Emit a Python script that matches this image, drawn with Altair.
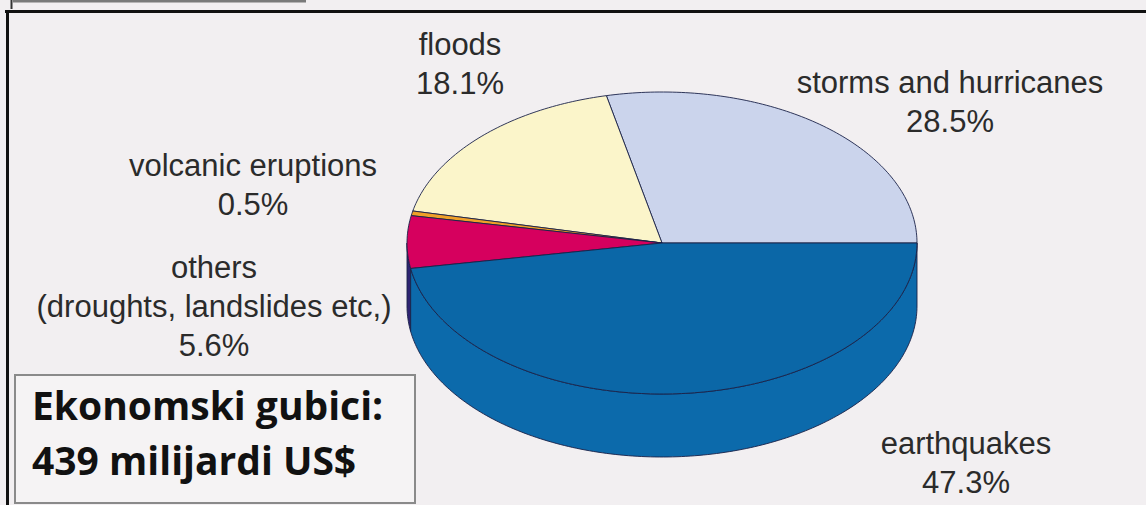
import altair as alt
import numpy as np
import pandas as pd

# ---- data ----
categories = ["storms and hurricanes", "floods", "volcanic eruptions", "others", "earthquakes"]
shares = [28.5, 18.1, 0.5, 5.6, 47.3]
pct_labels = ["28.5%", "18.1%", "0.5%", "5.6%", "47.3%"]
name_lines = [["storms and hurricanes"], ["floods"], ["volcanic eruptions"],
              ["others", "(droughts, landslides etc,)"], ["earthquakes"]]
title_lines = ["Ekonomski gubici:", "439 milijardi US$"]

# ---- styles / layout (not data) ----
top_colors = ["#cbd4ec", "#fbf5ca", "#f0a028", "#d6005e", "#0b67a7"]
side_colors = ["#a9b4d6", "#e0d9a8", "#c98010", "#2e2372", "#0c6aab"]
W, H = 1146, 505
CX, CY, RX, RY, DEPTH = 662, 243, 255, 151, 63
# label anchors: (center x, baseline of first line)
label_anchor = [(950, 93), (460, 55), (253, 176), (214, 278), (966, 454)]
LINE_H = 39

# ---- geometry derived from the shares ----
cum = np.concatenate([[0.0], np.cumsum(shares)]) / sum(shares) * 360.0


def arc(a1, a2, dy=0.0):
    n = max(2, int(np.ceil(abs(a2 - a1))) + 1)
    t = np.radians(np.linspace(a1, a2, n))
    return list(CX + RX * np.cos(t)), list(CY - RY * np.sin(t) + dy)


top_rows, side_rows = [], []
for k, cat in enumerate(categories):
    a1, a2 = cum[k], cum[k + 1]
    xs, ys = arc(a1, a2)
    px = [CX] + xs + [CX]
    py = [CY] + ys + [CY]
    for i, (x, y) in enumerate(zip(px, py)):
        top_rows.append({"slice": cat, "i": i, "x": x, "y": y})
    lo, hi = max(a1, 180.0), min(a2, 360.0)
    if hi > lo:
        tx, ty = arc(lo, hi)
        bx, by = arc(hi, lo, DEPTH)
        px = tx + bx + [tx[0]]
        py = ty + by + [ty[0]]
        for i, (x, y) in enumerate(zip(px, py)):
            side_rows.append({"side": cat, "i": i, "x": x, "y": y})

top_df = pd.DataFrame(top_rows)
side_df = pd.DataFrame(side_rows)

lab_rows = []
for k in range(len(categories)):
    lx, ly = label_anchor[k]
    lines = name_lines[k] + [pct_labels[k]]
    for j, t in enumerate(lines):
        lab_rows.append({"t": t, "x": lx, "y": ly + j * LINE_H})
lab_df = pd.DataFrame(lab_rows)

title_df = pd.DataFrame({"t": title_lines, "x": [32, 32], "y": [420, 475]})

xs = alt.Scale(domain=[0, W], nice=False, zero=False)
ys = alt.Scale(domain=[H, 0], nice=False, zero=False)
X = lambda: alt.X("x:Q", scale=xs, axis=None)
Y = lambda: alt.Y("y:Q", scale=ys, axis=None)

# frame decorations
frame_top = alt.Chart(pd.DataFrame({"a": [0]})).mark_rule(color="#111111", strokeWidth=3).encode(
    x=alt.value(5), x2=alt.value(W), y=alt.value(11.5))
frame_left = alt.Chart(pd.DataFrame({"a": [0]})).mark_rule(color="#111111", strokeWidth=3).encode(
    x=alt.value(7.5), y=alt.value(10), y2=alt.value(H))
small_left = alt.Chart(pd.DataFrame({"a": [0]})).mark_rule(color="#333333", strokeWidth=2).encode(
    x=alt.value(11.5), y=alt.value(0), y2=alt.value(9))
small_bar = alt.Chart(pd.DataFrame({"a": [0]})).mark_rule(color="#7a7a7a", strokeWidth=3).encode(
    x=alt.value(13), x2=alt.value(306), y=alt.value(1))

sides = alt.Chart(side_df).mark_line(filled=True, stroke="#1a2148", strokeWidth=0.9).encode(
    x=X(), y=Y(), order=alt.Order("i:Q"),
    color=alt.Color("side:N", scale=alt.Scale(domain=categories, range=side_colors), legend=None),
)
tops = alt.Chart(top_df).mark_line(filled=True, stroke="#1a2148", strokeWidth=0.9).encode(
    x=X(), y=Y(), order=alt.Order("i:Q"),
    color=alt.Color("slice:N", scale=alt.Scale(domain=categories, range=top_colors), legend=None),
)

labels = alt.Chart(lab_df).mark_text(
    font="Liberation Sans", fontSize=31, color="#2b2b2b", align="center", baseline="alphabetic"
).encode(x=X(), y=Y(), text="t:N")

box = alt.Chart(pd.DataFrame({"a": [0]})).mark_rect(
    fill="#f5f3f4", stroke="#8a8a8a", strokeWidth=2).encode(
    x=alt.value(15), x2=alt.value(415), y=alt.value(375), y2=alt.value(503))

title = alt.Chart(title_df).mark_text(
    font="Open Sans", fontWeight="bold", fontSize=39, color="#111111", align="left", baseline="alphabetic"
).encode(x=X(), y=Y(), text="t:N")

chart = alt.layer(
    frame_top, frame_left, small_left, small_bar, sides, tops, labels, box, title
).resolve_scale(color="independent").properties(
    width=W, height=H, padding=0, autosize=alt.AutoSizeParams(type="none"),
    background="#f2eff1",
).configure_view(stroke=None)

chart.save("out.html", embed_options={"renderer": "svg", "actions": False})
